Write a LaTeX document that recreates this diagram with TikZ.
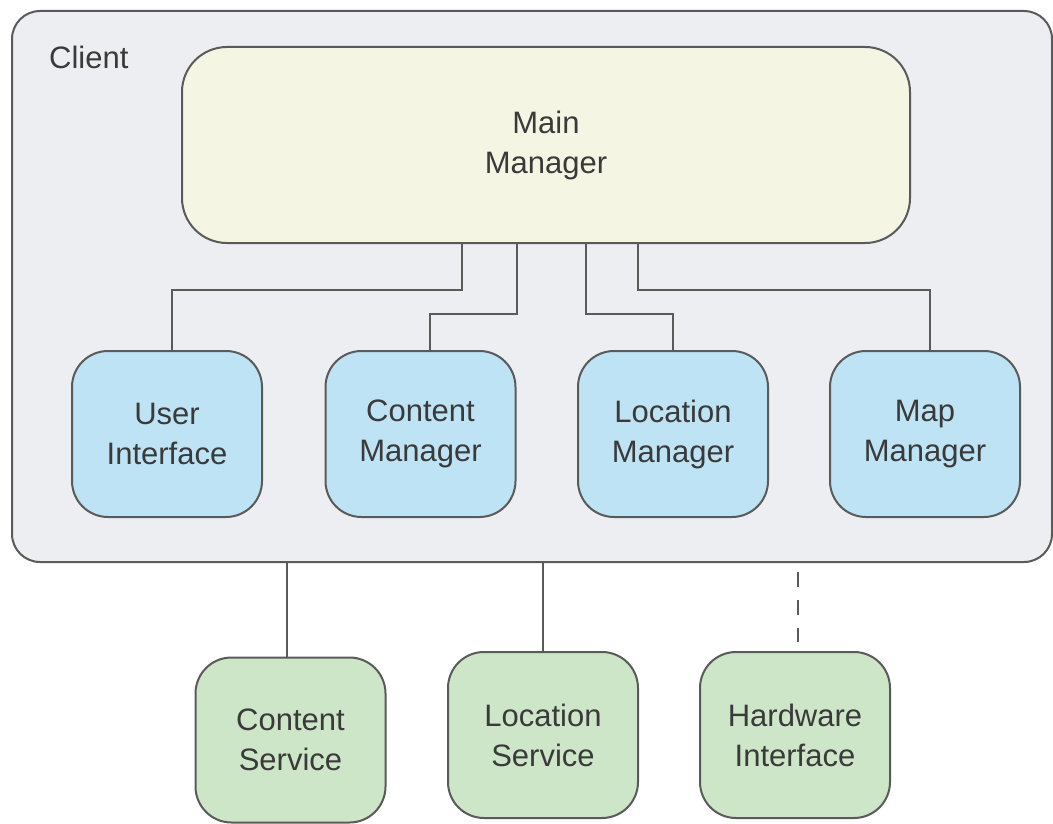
\documentclass[tikz,border=0pt]{standalone}
\usepackage{fontspec}
\setmainfont{Liberation Sans}
\usetikzlibrary{calc}
\definecolor{clientfill}{HTML}{EDEEF2}
\definecolor{mainfill}{HTML}{F4F6E3}
\definecolor{bluefill}{HTML}{BDE3F4}
\definecolor{greenfill}{HTML}{CDE6C8}
\definecolor{strokec}{HTML}{5A5A5A}
\definecolor{textc}{HTML}{3A3A3A}
\begin{document}
\begin{tikzpicture}[x=1pt,y=-1pt,
  lbl/.style={text=textc,font=\fontsize{31}{40}\selectfont},
  box/.style={draw=strokec,line width=2pt,align=center,lbl,inner sep=0pt,
    minimum width=190pt,minimum height=166pt,rounded corners=36pt},
  bluebox/.style={box,fill=bluefill},
  greenbox/.style={box,fill=greenfill},
  conn/.style={draw=strokec,line width=2pt},
  dashconn/.style={conn,dash pattern=on 15pt off 13pt}]
\useasboundingbox (0,0) rectangle (1053,824);
% client container
\node[draw=strokec,line width=2pt,fill=clientfill,rounded corners=28pt,
  minimum width=1040pt,minimum height=551pt,inner sep=0pt] (client) at (532,286.5) {};
\node[lbl,anchor=base west,inner sep=0pt] (clientlbl) at (49,69) {Client};
% main manager
\node[box,fill=mainfill,minimum width=728pt,minimum height=196pt,rounded corners=45pt] (main) at (546,145) {Main\\Manager};
% managers
\node[bluebox] (ui) at (167,434) {User\\Interface};
\node[bluebox] (cm) at (420.5,434) {Content\\Manager};
\node[bluebox] (lm) at (673,434) {Location\\Manager};
\node[bluebox] (mm) at (925,434) {Map\\Manager};
% services
\node[greenbox,minimum height=165pt] (cs) at (290.5,740) {Content\\Service};
\node[greenbox] (ls) at (543,735) {Location\\Service};
\node[greenbox] (hw) at (795,735) {Hardware\\Interface};
% connectors main -> managers
\draw[conn] (main.south -| 462,0) |- (172,290) -- (172,0 |- ui.north);
\draw[conn] (main.south -| 517,0) |- (430,314) -- (430,0 |- cm.north);
\draw[conn] (main.south -| 586,0) |- (673,314) -- (lm.north);
\draw[conn] (main.south -| 638,0) |- (930,290) -- (930,0 |- mm.north);
% connectors client -> services
\draw[conn] (client.south -| 287,0) -- (287,0 |- cs.north);
\draw[conn] (client.south -| 543,0) -- (ls.north);
\draw[dashconn] ($(client.south -| 798,0)+(0,9)$) -- ($(798,0 |- hw.north)+(0,-9)$);
\end{tikzpicture}
\end{document}
